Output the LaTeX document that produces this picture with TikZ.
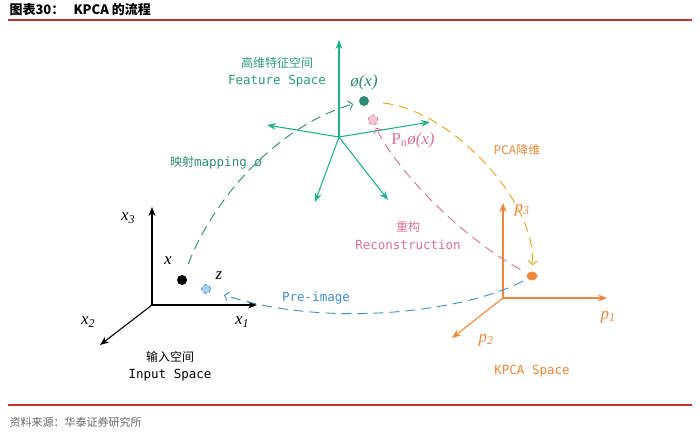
\documentclass[tikz,border=0pt]{standalone}
\usepackage{fontspec}
\setmonofont{DejaVu Sans Mono}
\newfontfamily\cjk{Noto Sans CJK SC}
\newfontfamily\tms{Liberation Serif}
\usetikzlibrary{arrows.meta,positioning,calc,shapes.geometric}

\definecolor{axteal}{HTML}{22B38C}
\definecolor{txteal}{HTML}{2A9A7E}
\definecolor{mapteal}{HTML}{2C8B72}
\definecolor{kporange}{HTML}{F0873A}
\definecolor{pcayellow}{HTML}{E2A51E}
\definecolor{recpink}{HTML}{D8729C}
\definecolor{pinkfill}{HTML}{F5C3D6}
\definecolor{preblue}{HTML}{3F8DC6}
\definecolor{bluefill}{HTML}{A9D3F2}
\definecolor{rulered}{HTML}{C0322B}

\begin{document}
\begin{tikzpicture}[x=1pt,y=-1pt,
  mono/.style={font=\fontsize{12.5}{14}\selectfont\ttfamily},
  hanzi/.style={font=\fontsize{12}{14}\selectfont\cjk},
  mlabel/.style={font=\fontsize{17}{19}\selectfont\tms\itshape},
  axis/.style={line width=1.1pt,-{Stealth[length=9pt,width=7pt]}},
  dot/.style={circle,inner sep=0pt,minimum size=10pt},
  flow/.style={dash pattern=on 10pt off 6pt,line width=0.9pt,-{Straight Barb[length=4pt,width=9pt]}}]
\useasboundingbox (0,0) rectangle (700,435);

% header and footer
\node[anchor=west,font=\fontsize{13}{15}\selectfont\cjk\bfseries] (fig) at (6,10) {图表30：};
\node[anchor=west,font=\fontsize{13}{15}\selectfont\cjk\bfseries] (ttl) at (70,10) {KPCA 的流程};
\coordinate (tl) at (8,20); \coordinate (tr) at (692,20);
\coordinate (bl) at (8,405); \coordinate (br) at (692,405);
\draw[rulered,line width=1.6pt] (tl) -- (tr);
\draw[rulered,line width=1.2pt] (bl) -- (br);
\node[anchor=west,gray!80!black,font=\fontsize{11}{13}\selectfont\cjk] (src) at (6,422) {资料来源：华泰证券研究所};

% input space
\coordinate (o) at (152,305);
\coordinate (x1) at (257,305); \coordinate (x2) at (100,345); \coordinate (x3) at (152,207);
\path[axis,black]
(o) edge (x1) edge (x2) edge (x3)
;
\node[mlabel] at (128,218) {x\textsubscript{3}};
\node[mlabel] at (242,322) {x\textsubscript{1}};
\node[mlabel] at (88,322) {x\textsubscript{2}};
\node[mlabel] at (168,261) {x};
\node[mlabel] at (219,276) {z};
\node[dot,fill=black] (xdot) at (182,280) {};
\node[dot,fill=bluefill,draw=preblue,dashed,line width=0.8pt,minimum size=9pt] (zdot) at (206,289) {};
\node[hanzi] (inzh) at (170,357) {输入空间};
\node[mono,below=0pt of inzh] (inen) {Input Space};

% feature space
\coordinate (f) at (339,137);
\coordinate (fu) at (339,40); \coordinate (fl) at (267,125); \coordinate (fr) at (430,122);
\coordinate (fdl) at (315,202); \coordinate (fdr) at (388,200);
\path[axis,axteal]
(f) edge (fu) edge (fl) edge (fr) edge (fdl) edge (fdr)
;
\node[hanzi,txteal] (ftzh) at (277,63) {高维特征空间};
\node[mono,txteal,below=0pt of ftzh] (ften) {Feature Space};
\node[mlabel,mapteal] at (364,82) {ø(x)};
\node[dot,fill=mapteal] (phidot) at (364,101) {};
\node[dot,fill=pinkfill,draw=recpink,dashed,line width=0.8pt] (pndot) at (373,120) {};
\node[mlabel,recpink] at (413,140) {{\upshape P\textsubscript{n}}ø(x)};

% kpca space
\coordinate (k) at (503,298);
\coordinate (p1) at (607,298); \coordinate (p2) at (452,338); \coordinate (p3) at (503,203);
\path[axis,kporange]
(k) edge (p1) edge (p2) edge (p3)
;
\node[mlabel,kporange] at (522,210) {p\textsubscript{3}};
\node[mlabel,kporange] at (608,317) {p\textsubscript{1}};
\node[mlabel,kporange] at (486,340) {p\textsubscript{2}};
\node[ellipse,fill=kporange,inner sep=0pt,minimum width=11pt,minimum height=9pt] (kdot) at (532,276) {};
\node[mono,kporange] (kpen) at (532,371) {KPCA Space};

% flows
\draw[flow,mapteal,shorten <=12pt,shorten >=6pt] (xdot) .. controls (215,195) and (280,125) .. (phidot);
\node[mapteal] (maplbl) at (216,163) {{\fontsize{12}{14}\selectfont\cjk 映射}{\fontsize{12.5}{14}\selectfont\ttfamily mapping ø}};
\draw[flow,pcayellow,shorten <=14pt,shorten >=6pt] (phidot) .. controls (450,110) and (536,200) .. (kdot);
\node[hanzi,kporange] (pcalbl) at (517,150) {PCA降维};
\draw[flow,recpink,shorten <=8pt,shorten >=3pt] (kdot) .. controls (450,230) and (390,160) .. (pndot);
\node[hanzi,recpink] (reczh) at (408,227) {重构};
\node[mono,recpink,below=0pt of reczh] (recen) {Reconstruction};
\draw[flow,preblue,shorten <=5pt,shorten >=14pt] (kdot) .. controls (470,310) and (330,330) .. (zdot);
\node[mono,preblue] (prelbl) at (316,298) {Pre-image};
\end{tikzpicture}
\end{document}
